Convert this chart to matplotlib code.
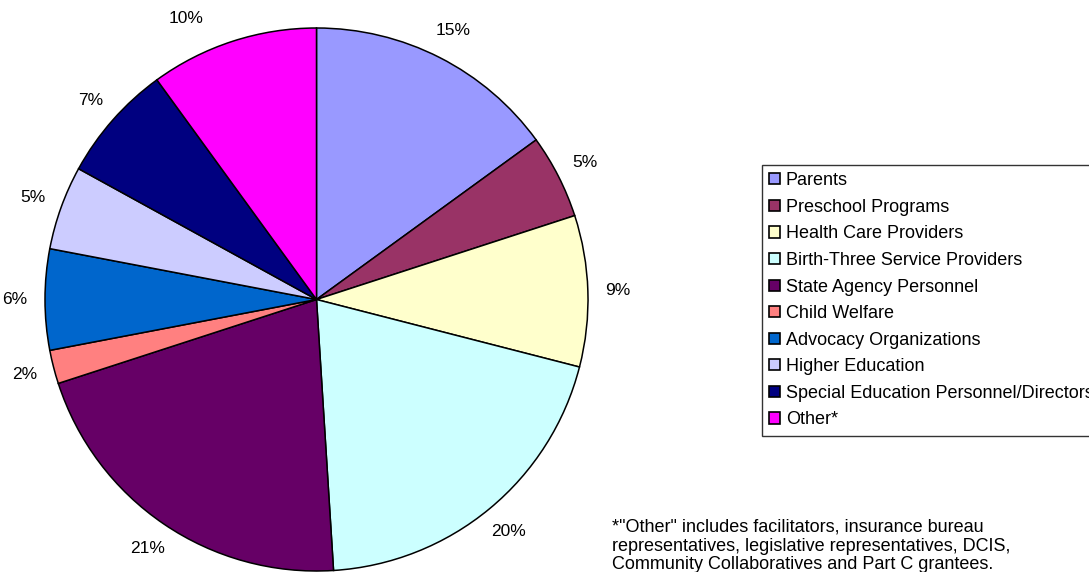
import matplotlib
matplotlib.use("Agg")
import matplotlib.pyplot as plt
import numpy as np

# Membership composition
categories = [
    "Parents",
    "Preschool Programs",
    "Health Care Providers",
    "Birth-Three Service Providers",
    "State Agency Personnel",
    "Child Welfare",
    "Advocacy Organizations",
    "Higher Education",
    "Special Education Personnel/Directors",
    "Other*",
]
shares = [15, 5, 9, 20, 21, 2, 6, 5, 7, 10]
colors = [
    "#9999FF", "#993366", "#FFFFCC", "#CCFFFF", "#660066",
    "#FF8080", "#0066CC", "#CCCCFF", "#000080", "#FF00FF",
]
footnote = ('*"Other" includes facilitators, insurance bureau\n'
            'representatives, legislative representatives, DCIS,\n'
            'Community Collaboratives and Part C grantees.')

plt.rcParams["font.family"] = ["Liberation Sans", "DejaVu Sans"]

W, H = 1089, 572
fig = plt.figure(figsize=(W / 100, H / 100), dpi=100)
fig.patch.set_facecolor("white")

# pie axes: centre (316.5, 299.5) px, radius 271.5 px
cx, cy, r = 316.5, 299.5, 271.5
ax = fig.add_axes([(cx - r) / W, (H - cy - r) / H, 2 * r / W, 2 * r / H])

wedges, texts = ax.pie(
    shares,
    colors=colors,
    startangle=90,
    counterclock=False,
    radius=1.0,
    labels=[f"{v}%" for v in shares],
    labeldistance=1.11,
    wedgeprops=dict(edgecolor="black", linewidth=1.1),
    textprops=dict(fontsize=12.5, color="black"),
)
ax.set_xlim(-1, 1)
ax.set_ylim(-1, 1)
ax.set_aspect("equal")
ax.axis("off")

for w, t in zip(wedges, texts):
    t.set_horizontalalignment("center")
    t.set_verticalalignment("center")
    t.set_clip_on(False)

# the "Other" label sits further round towards the top
ow = wedges[-1]
ang = np.deg2rad((ow.theta1 + ow.theta2) / 2 + 7)
texts[-1].set_position((1.14 * np.cos(ang), 1.14 * np.sin(ang)))

leg = fig.legend(
    wedges, categories,
    loc="upper left",
    bbox_to_anchor=(762 / W, 1 - 165 / H),
    bbox_transform=fig.transFigure,
    borderaxespad=0,
    fontsize=13,
    frameon=True,
    fancybox=False,
    shadow=False,
    handlelength=0.58,
    handleheight=0.58,
    handletextpad=0.33,
    labelspacing=0.53,
    borderpad=0.4,
)
fr = leg.get_frame()
fr.set_edgecolor("black")
fr.set_linewidth(1.0)
for h in leg.legend_handles:
    h.set_edgecolor("black")
    h.set_linewidth(1.2)

fig.text(612 / W, 1 - 519 / H, footnote, fontsize=13, ha="left", va="top",
         linespacing=1.12)

fig.savefig("out.png", dpi=100)
